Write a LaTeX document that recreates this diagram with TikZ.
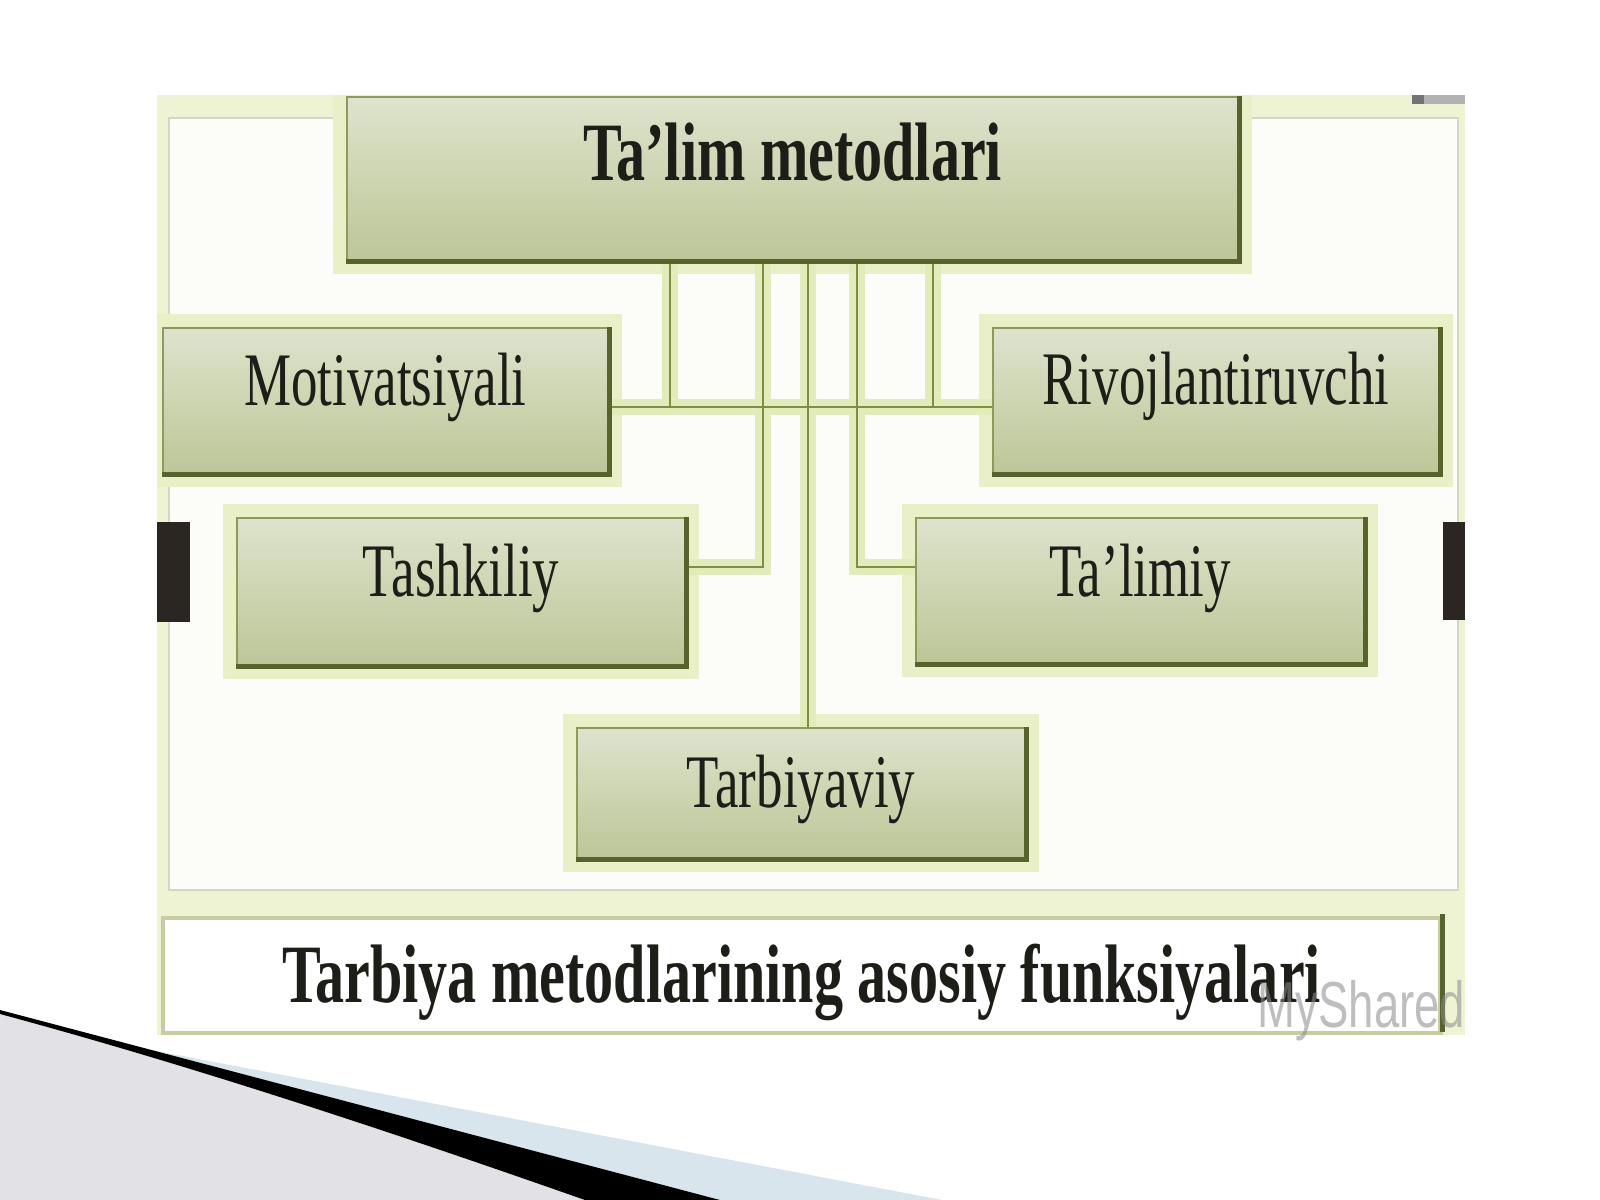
\documentclass[tikz,border=0pt]{standalone}
\usepackage{fontspec}
\setmainfont{Liberation Serif}
\newfontfamily\wmfont{Liberation Sans}
\usepackage{graphicx}
\usetikzlibrary{calc}
\pgfdeclarelayer{back}
\pgfdeclarelayer{halo}
\pgfdeclarelayer{conn}
\pgfsetlayers{back,halo,conn,main}
\definecolor{bandc}{HTML}{EEF3D4}
\definecolor{innerc}{HTML}{FCFDF8}
\definecolor{innerframe}{HTML}{D3D7C4}
\definecolor{haloc}{HTML}{E9F0C8}
\definecolor{boxtop}{HTML}{DEE3CC}
\definecolor{boxbot}{HTML}{BCC697}
\definecolor{boxedge}{HTML}{8D9A5C}
\definecolor{shadowc}{HTML}{56632C}
\definecolor{connc}{HTML}{7E8D3E}
\definecolor{connhaloc}{HTML}{E2EBBA}
\definecolor{txtc}{HTML}{1E1E18}
\definecolor{tabc}{HTML}{2B2622}
\definecolor{swgray}{HTML}{E2E2E6}
\definecolor{swblue}{HTML}{D8E5EC}
\definecolor{botedge}{HTML}{C9CC9E}
\definecolor{wmc}{HTML}{8A8A8A}
\newcommand{\narrowtxt}[1]{\scalebox{0.7}[1]{#1}}
\begin{document}
\begin{tikzpicture}[x=0.01cm,y=-0.01cm,
  box/.style={rectangle, draw=boxedge, line width=0.7pt, top color=boxtop, bottom color=boxbot, inner sep=0pt},
  botbox/.style={rectangle, draw=botedge, line width=1.2pt, fill=white, inner sep=0pt},
  regtxt/.style={font=\fontsize{21.5}{26}\selectfont, text=txtc, inner sep=0pt, text height=0.516cm, text depth=0.165cm},
  boldtxt/.style={font=\fontsize{23.6}{28}\selectfont\bfseries, text=txtc, inner sep=0pt, text height=0.567cm, text depth=0.181cm},
  boxhalo/.style={draw=haloc, line width=7pt},
  connhalo/.style={draw=connhaloc, line width=4.5pt},
  connline/.style={draw=connc, line width=0.8pt},
  shadowedge/.style={draw=shadowc, line width=1.4pt},
  tabbox/.style={fill=tabc},
  wm/.style={font=\wmfont\fontsize{18.5}{22}\selectfont, text=wmc, opacity=0.55, inner sep=0pt, anchor=base west}
]
\useasboundingbox (0,0) rectangle (1600,1200);

% ---- background: swoosh and panel
\begin{pgfonlayer}{back}
  \fill[white] (0,0) rectangle (1600,1200);
  \fill[swgray] (0,1014) .. controls (200,1068) and (400,1135) .. (585,1200) -- (0,1200) -- cycle;
  \fill[swblue] (151,1050) -- (942,1200) -- (720,1200) -- cycle;
  \fill[black] (0,1010) -- (720,1200) -- (585,1200) .. controls (400,1135) and (200,1068) .. (0,1014) -- cycle;
  \fill[bandc] (157,95) rectangle (1465,1035);
  \filldraw[fill=innerc, draw=innerframe, line width=0.6pt] (169,118) rectangle (1458,890);
  \fill[gray!60] (1412,95) rectangle (1465,104);
  \fill[gray!90!black] (1412,95) rectangle (1424,104);
\end{pgfonlayer}

% ---- boxes
\node[box, minimum width=8.91cm, minimum height=1.63cm,
  label={[boldtxt,yshift=0.178cm]center:\narrowtxt{Ta’lim metodlari}}] (top) at (792.5,178.5) {};
\node[box, minimum width=4.45cm, minimum height=1.45cm,
  label={[regtxt,yshift=0.121cm]center:\narrowtxt{Motivatsiyali}}] (mot) at (385.5,400.5) {};
\node[box, minimum width=4.46cm, minimum height=1.45cm,
  label={[regtxt,yshift=0.131cm]center:\narrowtxt{Rivojlantiruvchi}}] (riv) at (1216,400.5) {};
\node[box, minimum width=4.48cm, minimum height=1.47cm,
  label={[regtxt,yshift=0.121cm]center:\narrowtxt{Tashkiliy}}] (tash) at (461,591.5) {};
\node[box, minimum width=4.48cm, minimum height=1.45cm,
  label={[regtxt,yshift=0.111cm]center:\narrowtxt{Ta’limiy}}] (tal) at (1140,590.5) {};
\node[box, minimum width=4.48cm, minimum height=1.30cm,
  label={[regtxt,yshift=0.026cm]center:\narrowtxt{Tarbiyaviy}}] (tarb) at (801,793) {};
\node[botbox, minimum width=12.77cm, minimum height=1.15cm,
  label={[boldtxt,yshift=-0.072cm]center:\narrowtxt{Tarbiya metodlarining asosiy funksiyalari}}] (bot) at (801.5,975.5) {};

\foreach \n in {top,mot,riv,tash,tal,tarb}{
  \draw[shadowedge] (\n.north east) -- (\n.south east) -- (\n.south west);
}
\draw[shadowedge] ($(bot.north east)+(0,-2)$) -- ($(bot.south east)+(0,-3)$);

% ---- halos around boxes (kept inside the panel)
\begin{pgfonlayer}{halo}
  \begin{scope}
    \clip (157,95) rectangle (1465,1035);
    \foreach \n in {top,mot,riv,tash,tal,tarb}{
      \draw[boxhalo] (\n.north west) rectangle (\n.south east);
    }
  \end{scope}
\end{pgfonlayer}

% ---- connectors
\begin{pgfonlayer}{conn}
  \foreach \st in {connhalo,connline}{
    \draw[\st] ($(top.south)+(-122.5,0)$) |- ($(mot.east)+(0,6.5)$);
    \draw[\st] ($(top.south)+(140.5,0)$) |- ($(riv.west)+(0,6.5)$);
    \draw[\st] ($(mot.east)+(0,6.5)$) -- ($(riv.west)+(0,6.5)$);
    \draw[\st] ($(top.south)+(-29.5,0)$) |- ($(tash.east)+(0,-24.5)$);
    \draw[\st] ($(top.south)+(64.5,0)$) |- ($(tal.west)+(0,-23.5)$);
    \draw[\st] ($(top.south)+(15.5,0)$) -- ($(tarb.north)+(7,0)$);
  }
\end{pgfonlayer}

% ---- side tabs
\fill[tabbox] (157,522) rectangle (190,622);
\fill[tabbox] (1443,522) rectangle (1465,620);

% ---- watermark
\node[wm] (wmk) at (1257,1027) {\narrowtxt{MyShared}};
\end{tikzpicture}
\end{document}
